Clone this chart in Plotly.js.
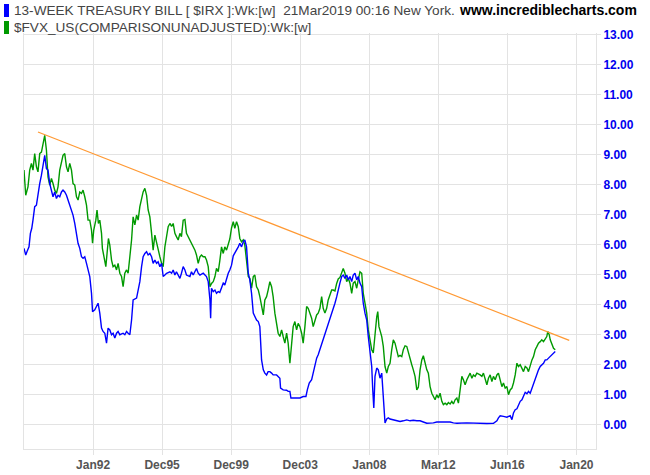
<!DOCTYPE html>
<html>
<head>
<meta charset="utf-8">
<script src="https://cdn.plot.ly/plotly-3.0.1.min.js"></script>
<style>
html,body{margin:0;padding:0;background:#fff;}
#chart{width:650px;height:475px;}
</style>
</head>
<body>
<div id="chart"></div>
<script>
// ---- DATA (decimal-year chart positions, weekly yields in %) ----
var fvxDates = [1988.00,1988.10,1988.23,1988.33,1988.43,1988.52,1988.62,1988.72,1988.81,1988.91,1989.01,1989.10,1989.20,1989.30,1989.39,1989.49,1989.59,1989.68,1989.78,1989.88,1989.97,1990.07,1990.17,1990.26,1990.36,1990.46,1990.55,1990.65,1990.75,1990.84,1990.94,1991.04,1991.13,1991.23,1991.33,1991.42,1991.52,1991.62,1991.71,1991.81,1991.91,1991.97,1992.04,1992.16,1992.23,1992.31,1992.39,1992.49,1992.54,1992.62,1992.74,1992.81,1992.89,1992.97,1993.07,1993.16,1993.26,1993.36,1993.45,1993.55,1993.65,1993.74,1993.84,1993.94,1994.03,1994.13,1994.23,1994.32,1994.42,1994.52,1994.61,1994.71,1994.81,1994.90,1995.00,1995.10,1995.19,1995.29,1995.39,1995.48,1995.58,1995.68,1995.77,1995.87,1995.97,1996.06,1996.16,1996.26,1996.35,1996.45,1996.55,1996.64,1996.74,1996.83,1996.93,1997.03,1997.12,1997.22,1997.32,1997.41,1997.51,1997.61,1997.70,1997.80,1997.90,1997.99,1998.09,1998.19,1998.28,1998.38,1998.48,1998.57,1998.67,1998.77,1998.86,1998.96,1999.06,1999.15,1999.25,1999.34,1999.44,1999.54,1999.63,1999.73,1999.83,1999.92,2000.02,2000.12,2000.21,2000.31,2000.41,2000.50,2000.60,2000.70,2000.79,2000.89,2000.99,2001.08,2001.18,2001.28,2001.37,2001.47,2001.57,2001.66,2001.76,2001.86,2001.95,2002.05,2002.14,2002.24,2002.34,2002.43,2002.53,2002.63,2002.72,2002.82,2002.92,2003.01,2003.11,2003.21,2003.30,2003.40,2003.50,2003.59,2003.69,2003.79,2003.88,2003.98,2004.08,2004.17,2004.27,2004.37,2004.46,2004.56,2004.66,2004.75,2004.85,2004.95,2005.04,2005.14,2005.24,2005.33,2005.43,2005.53,2005.62,2005.72,2005.82,2005.91,2006.01,2006.11,2006.20,2006.30,2006.40,2006.49,2006.59,2006.69,2006.78,2006.88,2006.98,2007.07,2007.17,2007.27,2007.36,2007.46,2007.56,2007.65,2007.75,2007.85,2007.94,2008.04,2008.14,2008.23,2008.33,2008.43,2008.49,2008.56,2008.72,2008.81,2008.91,2009.01,2009.10,2009.20,2009.30,2009.39,2009.49,2009.59,2009.68,2009.78,2009.88,2009.97,2010.07,2010.17,2010.26,2010.36,2010.46,2010.55,2010.65,2010.75,2010.84,2010.94,2011.04,2011.13,2011.23,2011.33,2011.42,2011.52,2011.62,2011.71,2011.81,2011.91,2012.00,2012.10,2012.20,2012.29,2012.39,2012.49,2012.58,2012.68,2012.78,2012.87,2012.97,2013.07,2013.16,2013.26,2013.36,2013.45,2013.55,2013.65,2013.74,2013.84,2013.94,2014.03,2014.13,2014.23,2014.42,2014.52,2014.61,2014.71,2014.81,2014.90,2015.00,2015.10,2015.19,2015.29,2015.39,2015.48,2015.58,2015.68,2015.77,2015.87,2015.97,2016.06,2016.16,2016.26,2016.35,2016.45,2016.55,2016.64,2016.74,2016.84,2016.93,2017.03,2017.13,2017.22,2017.32,2017.42,2017.51,2017.61,2017.71,2017.80,2017.90,2017.99,2018.09,2018.19,2018.28,2018.34,2018.42,2018.48,2018.57,2018.67,2018.77];
var fvxValues = [8.48,7.64,7.92,8.48,8.70,8.48,9.03,8.59,8.42,9.03,9.08,9.31,9.64,9.14,8.25,7.98,8.20,8.03,7.81,7.70,7.92,8.48,8.70,8.97,9.03,8.59,8.42,8.70,8.48,8.03,7.98,7.59,7.48,7.75,7.70,7.81,7.59,7.31,6.81,6.81,6.48,6.04,6.48,6.81,7.15,6.70,6.81,6.37,5.87,5.59,5.26,5.70,6.20,5.98,5.48,5.26,5.31,5.15,5.37,5.04,4.93,4.59,5.04,5.15,5.04,5.59,6.15,6.92,6.65,6.98,6.81,7.26,7.48,7.75,7.87,7.64,7.15,6.92,6.37,5.81,6.31,6.04,5.76,5.59,5.37,5.26,5.92,6.37,6.59,6.70,6.60,6.70,6.37,6.26,6.15,6.37,6.26,6.81,6.83,6.37,6.26,6.15,6.04,5.92,5.81,5.65,5.37,5.59,5.65,5.59,5.59,5.48,5.26,4.59,4.70,4.76,4.93,5.20,5.09,5.45,5.92,5.70,5.92,5.81,6.04,6.18,6.55,6.76,6.54,6.76,6.59,6.20,6.09,6.15,5.98,5.48,4.93,4.87,4.54,4.93,4.98,4.59,4.48,4.26,3.93,3.65,4.15,4.26,4.48,4.76,4.59,4.26,3.71,3.26,3.04,2.93,3.15,2.93,2.71,3.04,2.71,2.04,2.71,3.26,3.43,3.15,3.37,3.26,3.04,2.71,3.26,3.93,3.87,3.71,3.54,3.26,3.48,3.65,3.71,3.87,4.26,3.87,3.71,3.87,4.15,4.32,4.48,4.48,4.45,4.70,4.85,4.90,5.09,5.20,5.04,4.76,4.87,4.71,4.37,4.71,4.76,4.54,4.82,5.09,5.04,4.37,4.04,3.71,3.15,2.82,2.49,2.38,3.15,3.59,3.76,3.26,2.93,2.60,1.93,1.71,1.93,2.04,2.49,2.82,2.71,2.43,2.26,2.30,2.26,2.49,2.62,2.60,2.38,2.15,1.99,1.82,1.60,1.15,1.24,1.82,2.15,2.29,2.04,1.82,1.71,1.26,1.04,0.93,0.82,0.99,0.88,1.04,0.77,0.66,0.71,0.66,0.73,0.68,0.77,0.68,0.82,0.88,0.71,1.15,1.60,1.49,1.32,1.49,1.60,1.71,1.54,1.65,1.60,1.71,1.65,1.60,1.71,1.49,1.32,1.54,1.65,1.43,1.60,1.49,1.65,1.71,1.43,1.26,1.38,1.21,1.26,0.99,1.15,1.21,1.38,1.65,2.04,1.93,1.99,1.88,1.76,1.93,1.88,1.76,1.99,2.15,2.26,2.49,2.60,2.71,2.76,2.82,2.76,2.88,2.93,3.10,2.99,2.82,2.65,2.54,2.49];

var irxDates = [1988.00,1988.10,1988.17,1988.29,1988.37,1988.45,1988.52,1988.62,1988.72,1988.81,1988.91,1989.01,1989.10,1989.20,1989.30,1989.39,1989.49,1989.59,1989.68,1989.78,1989.88,1989.97,1990.07,1990.17,1990.26,1990.36,1990.46,1990.55,1990.65,1990.75,1990.84,1990.94,1991.04,1991.13,1991.23,1991.33,1991.42,1991.52,1991.62,1991.71,1991.81,1991.91,1991.97,1992.10,1992.20,1992.29,1992.39,1992.49,1992.58,1992.68,1992.78,1992.87,1992.97,1993.07,1993.16,1993.26,1993.36,1993.45,1993.55,1993.74,1993.84,1993.94,1994.03,1994.13,1994.23,1994.32,1994.52,1994.61,1994.71,1994.81,1994.90,1995.00,1995.10,1995.19,1995.29,1995.39,1995.48,1995.58,1995.68,1995.77,1995.87,1995.97,1996.06,1996.16,1996.26,1996.45,1996.55,1996.64,1996.74,1996.83,1997.03,1997.12,1997.22,1997.32,1997.41,1997.61,1997.70,1997.80,1997.90,1997.99,1998.09,1998.19,1998.38,1998.57,1998.67,1998.77,1998.81,1998.86,1998.96,1999.06,1999.15,1999.25,1999.34,1999.44,1999.54,1999.63,1999.73,1999.83,1999.92,2000.02,2000.12,2000.21,2000.31,2000.41,2000.50,2000.60,2000.70,2000.79,2000.89,2000.93,2000.99,2001.08,2001.18,2001.28,2001.37,2001.47,2001.57,2001.66,2001.76,2001.86,2001.95,2002.05,2002.14,2002.24,2002.34,2002.43,2002.63,2002.72,2002.82,2002.86,2003.01,2003.21,2003.30,2003.40,2003.46,2003.79,2003.98,2004.17,2004.33,2004.41,2004.52,2004.66,2004.75,2004.85,2004.95,2005.04,2005.14,2005.24,2005.33,2005.43,2005.53,2005.62,2005.72,2005.82,2005.91,2006.01,2006.11,2006.20,2006.30,2006.40,2006.49,2006.59,2006.69,2006.78,2006.88,2006.98,2007.07,2007.17,2007.27,2007.36,2007.46,2007.56,2007.65,2007.75,2007.85,2007.94,2008.04,2008.14,2008.20,2008.26,2008.33,2008.43,2008.52,2008.62,2008.72,2008.81,2008.91,2009.01,2009.10,2009.20,2009.39,2009.59,2009.78,2009.97,2010.17,2010.36,2010.55,2010.75,2010.94,2011.13,2011.33,2011.71,2011.91,2012.29,2012.68,2012.87,2013.07,2013.65,2014.23,2014.81,2015.19,2015.39,2015.48,2015.58,2015.77,2015.97,2016.16,2016.26,2016.35,2016.45,2016.55,2016.64,2016.74,2016.84,2016.93,2017.03,2017.13,2017.22,2017.32,2017.42,2017.51,2017.61,2017.71,2017.80,2017.90,2017.99,2018.09,2018.19,2018.28,2018.38,2018.48,2018.57,2018.67,2018.77];
var irxValues = [5.87,5.65,5.76,5.92,6.37,6.54,6.81,7.26,7.31,7.70,8.03,8.31,8.59,8.97,8.53,8.48,8.03,7.81,7.59,7.75,7.53,7.64,7.59,7.75,7.81,7.75,7.64,7.48,7.31,7.15,6.98,6.70,6.37,6.04,5.87,5.59,5.54,5.59,5.37,5.15,4.93,4.37,3.76,3.82,3.93,4.04,3.71,3.21,3.10,3.04,2.71,3.21,3.15,2.99,3.04,2.88,3.04,3.10,2.99,3.04,2.99,3.10,3.04,2.99,3.48,4.15,4.21,4.43,4.76,5.26,5.59,5.70,5.76,5.65,5.70,5.59,5.37,5.48,5.37,5.42,5.26,5.37,4.93,4.98,5.04,5.09,5.04,5.15,4.98,5.09,4.87,5.04,5.26,5.15,4.98,4.93,5.09,4.98,5.09,5.20,5.04,4.98,5.04,4.93,4.76,4.15,3.54,4.54,4.43,4.48,4.37,4.43,4.40,4.54,4.71,4.65,4.87,5.04,5.15,5.31,5.62,5.70,5.81,5.92,6.04,5.92,6.09,6.15,5.92,5.59,5.04,4.82,4.37,3.71,3.59,3.48,3.43,3.26,2.15,1.82,1.71,1.65,1.76,1.76,1.71,1.65,1.65,1.60,1.54,1.21,1.15,1.14,1.10,1.10,0.88,0.88,0.88,0.93,0.93,1.15,1.38,1.49,1.71,1.99,2.21,2.32,2.49,2.71,2.82,3.04,3.21,3.37,3.48,3.65,3.87,4.04,4.25,4.50,4.72,4.93,4.98,4.87,4.98,4.82,4.93,4.76,4.98,5.04,4.82,4.93,4.71,4.59,4.04,3.71,3.48,2.93,2.49,1.93,1.15,0.55,1.60,1.88,1.82,1.54,1.71,0.82,0.05,0.18,0.22,0.18,0.15,0.12,0.10,0.12,0.15,0.12,0.14,0.12,0.12,0.08,0.04,0.05,0.08,0.08,0.08,0.05,0.04,0.05,0.03,0.03,0.04,0.12,0.22,0.29,0.27,0.24,0.29,0.16,0.38,0.49,0.52,0.66,0.77,0.82,0.93,1.07,1.02,1.10,1.04,1.21,1.38,1.54,1.71,1.82,1.93,1.99,2.04,2.15,2.15,2.21,2.26,2.32,2.38,2.43];

var trendDates = [1988.81, 2019.58];
var trendValues = [9.75, 2.80];

var xTickVals = [1992, 1996, 2000, 2004, 2008, 2012, 2016, 2020];
var xTickLabels = ['Jan92', 'Dec95', 'Dec99', 'Dec03', 'Jan08', 'Mar12', 'Jun16', 'Jan20'];
var yTickVals = [0,1,2,3,4,5,6,7,8,9,10,11,12,13];

var legendLine1 = '13-WEEK TREASURY BILL [ $IRX ]:Wk:[w]  21Mar2019 00:16 New York.';
var legendLine2 = '$FVX_US(COMPARISONUNADJUSTED):Wk:[w]';
var siteText = 'www.incrediblecharts.com';

// ---- CHART ----
var W = 650, H = 475;
var M = {l: 24, r: 54, t: 33, b: 26};
var pw = W - M.l - M.r, ph = H - M.t - M.b;
function px2paperX(px){ return (px - M.l) / pw; }
function py2paperY(py){ return (H - M.b - py) / ph; }

var grid = '#e3e3e3';
var txtFont = 'Liberation Sans, Arial, sans-serif';

var traces = [
  {x: fvxDates, y: fvxValues, type: 'scatter', mode: 'lines',
   line: {color: '#009900', width: 1.4}, hoverinfo: 'skip'},
  {x: irxDates, y: irxValues, type: 'scatter', mode: 'lines',
   line: {color: '#0000ff', width: 1.4}, hoverinfo: 'skip'},
  {x: trendDates, y: trendValues, type: 'scatter', mode: 'lines',
   line: {color: '#ff9933', width: 1.2}, hoverinfo: 'skip'}
];

var layout = {
  width: W, height: H,
  margin: M,
  paper_bgcolor: '#ffffff', plot_bgcolor: '#ffffff',
  showlegend: false,
  xaxis: {
    type: 'linear', range: [1988, 2021.13],
    tickvals: xTickVals, ticktext: xTickLabels,
    showgrid: true, gridcolor: grid, gridwidth: 1,
    zeroline: false, showline: true, linecolor: grid, linewidth: 1,
    ticks: 'outside', ticklen: 5, tickcolor: grid,
    tickfont: {family: txtFont, size: 12, color: '#555555', weight: 700}
  },
  yaxis: {
    side: 'right', range: [-0.82, 13.05],
    tickvals: yTickVals, tickformat: '.2f',
    showgrid: true, gridcolor: grid, gridwidth: 1,
    zeroline: false, showline: true, mirror: true, linecolor: grid, linewidth: 1,
    ticks: 'outside', ticklen: 4, tickcolor: grid,
    tickfont: {family: txtFont, size: 12, color: '#0000ee', weight: 700}
  },
  shapes: [
    {type: 'rect', xref: 'paper', yref: 'paper',
     x0: px2paperX(4), x1: px2paperX(9), y0: py2paperY(17), y1: py2paperY(4),
     fillcolor: '#0000ff', line: {width: 0}},
    {type: 'rect', xref: 'paper', yref: 'paper',
     x0: px2paperX(4), x1: px2paperX(9), y0: py2paperY(34), y1: py2paperY(21),
     fillcolor: '#009900', line: {width: 0}}
  ],
  annotations: [
    {text: legendLine1, xref: 'paper', yref: 'paper', x: px2paperX(12), y: py2paperY(10),
     xanchor: 'left', yanchor: 'middle', showarrow: false,
     font: {family: txtFont, size: 13.6, color: '#444444'}},
    {text: legendLine2, xref: 'paper', yref: 'paper', x: px2paperX(12), y: py2paperY(27),
     xanchor: 'left', yanchor: 'middle', showarrow: false,
     font: {family: txtFont, size: 13.6, color: '#444444'}},
    {text: siteText, xref: 'paper', yref: 'paper', x: px2paperX(639), y: py2paperY(10),
     xanchor: 'right', yanchor: 'middle', showarrow: false,
     font: {family: txtFont, size: 14, color: '#000000', weight: 700}}
  ]
};

Plotly.newPlot('chart', traces, layout, {staticPlot: true, displayModeBar: false});
</script>
</body>
</html>
